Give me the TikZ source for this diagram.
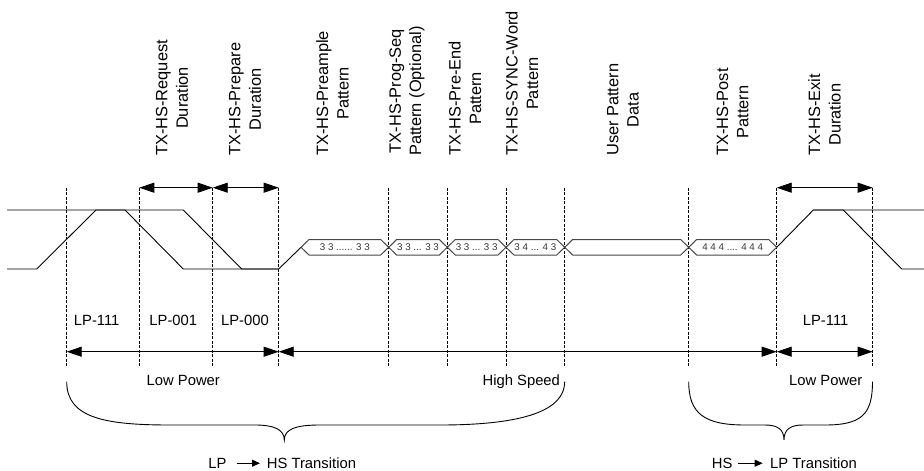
\documentclass[tikz,border=0pt]{standalone}
\usepackage{fontspec}
\setmainfont{Liberation Sans}
\usetikzlibrary{arrows.meta}
\begin{document}
\begin{tikzpicture}[x=1pt,y=-1pt,
  dline/.style={dash pattern=on 3pt off 1.5pt, line width=0.9pt},
  sig/.style={line width=0.9pt, line join=round},
  bus/.style={line width=1pt, draw=black!72},
  dim/.style={{Triangle[length=15pt,width=10pt]}-{Triangle[length=15pt,width=10pt]}, line width=0.9pt},
  vlabel/.style={rotate=90, align=center, font=\fontsize{16.4}{20.3}\selectfont, inner sep=0pt, anchor=west},
  hlabel/.style={font=\fontsize{14.8}{17}\selectfont, inner sep=0pt, anchor=base},
  bustext/.style={font=\fontsize{9.8}{10}\selectfont, text=black!78, inner sep=0pt},
  brace/.style={line width=0.9pt},
  tarrow/.style={-{Triangle[length=8pt,width=7pt]}, line width=0.9pt}
]
\useasboundingbox (0,0) rectangle (924,471);

% dashed markers
\foreach \n/\x in {1/66.7,2/139.3,3/212.7,4/278.7,5/388.7,6/447.3,7/506,8/564.7,9/688.7,10/776.7,11/872.7}{
  \coordinate (t\n) at (\x,187.7);
  \coordinate (b\n) at (\x,366.7);
  \coordinate (h\n) at (\x,351.7);
  \draw[dline] (t\n) -- (b\n);
}

% top duration arrows
\draw[dim] (t2) -- (t3);
\draw[dim] (t3) -- (t4);
\draw[dim] (t10) -- (t11);

% bottom arrows
\draw[dim] (h1) -- (h4);
\draw[dim] (h4) -- (h10);
\draw[dim] (h10) -- (h11);

% signals (left)
\draw[sig] (7,210) -- (183.3,210) -- (241.7,269) -- (278.7,269);
\draw[sig] (7,269) -- (36.7,269) -- (96,210) -- (125,210) -- (183.3,269) -- (278.7,269) -- (301,247.3);
% signals (right)
\draw[sig] (776.7,247.3) -- (813.3,210) -- (924,210);
\draw[sig] (813.3,210) -- (843.3,210) -- (901.7,269) -- (924,269);

% bus segments
\foreach \i/\a/\b/\t in {1/301/388.7/{3 3 ...... 3 3},2/388.7/447.3/{3 3 ... 3 3},3/447.3/506/{3 3 ... 3 3},4/506/564.7/{3 4 ... 4 3},5/564.7/688.7/{},6/688.7/776.7/{4 4 4 .... 4 4 4}}{
  \draw[bus] (\a,247.3) -- (\a+8,239.5) -- (\b-8,239.5) -- (\b,247.3) -- (\b-8,255) -- (\a+8,255) -- cycle;
  \node[bustext] (bt\i) at ({(\a+\b)/2},247.6) {\t};
}

% rotated labels
\node[vlabel] (l1) at (172,156) {TX-HS-Request\\Duration};
\node[vlabel] (l2) at (245,156) {TX-HS-Prepare\\Duration};
\node[vlabel] (l3) at (332.5,156) {TX-HS-Preample\\Pattern};
\node[vlabel] (l4) at (407,156) {TX-HS-Prog-Seq\\Pattern (Optional)};
\node[vlabel] (l5) at (465,156) {TX-HS-Pre-End\\Pattern};
\node[vlabel] (l6) at (522,156) {TX-HS-SYNC-Word\\Pattern};
\node[vlabel] (l7) at (623,156) {User Pattern\\Data};
\node[vlabel] (l8) at (732.5,156) {TX-HS-Post\\Pattern};
\node[vlabel] (l9) at (824.5,156) {TX-HS-Exit\\Duration};

% state labels
\node[hlabel] (s1) at (96.7,325.3) {LP-111};
\node[hlabel] (s2) at (173.3,325.3) {LP-001};
\node[hlabel] (s3) at (245,325.3) {LP-000};
\node[hlabel] (s4) at (825.6,325.3) {LP-111};

\node[hlabel] (m1) at (183.3,385.5) {Low Power};
\node[hlabel] (m2) at (521.3,385.5) {High Speed};
\node[hlabel] (m3) at (825.8,385.5) {Low Power};

% braces
\draw[brace] (66.7,381.7) .. controls (66.7,418) and (105,425) .. (170,425) -- (255,425)
  .. controls (273,425) and (284.3,429) .. (284.3,440)
  .. controls (284.3,429) and (296,425) .. (320,425) -- (440,425)
  .. controls (525,425) and (564.7,410) .. (564.7,381.7);
\draw[brace] (688.7,381.7) .. controls (688.7,414) and (705,425) .. (745,425) -- (765,425)
  .. controls (777,425) and (784,429) .. (784,440)
  .. controls (784,429) and (791,425) .. (803,425) -- (825,425)
  .. controls (862,425) and (872.5,414) .. (872.5,381.7);

% transition labels
\node[hlabel, anchor=base east] (lpa) at (226.7,468.3) {LP};
\node[hlabel, anchor=base west] (hsa) at (266.7,468.3) {HS Transition};
\draw[tarrow, shorten <=10pt, shorten >=6.7pt] (lpa.east) -- (lpa.east -| hsa.west);

\node[hlabel, anchor=base east] (hsb) at (732.7,468.3) {HS};
\node[hlabel, anchor=base west] (lpb) at (770,468.3) {LP Transition};
\draw[tarrow, shorten <=5.6pt, shorten >=7.3pt] (hsb.east) -- (hsb.east -| lpb.west);
\end{tikzpicture}
\end{document}
